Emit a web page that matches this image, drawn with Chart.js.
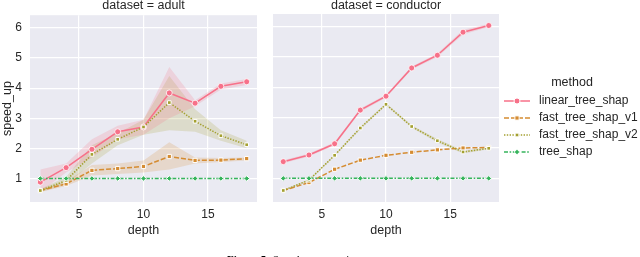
<!DOCTYPE html>
<html>
<head>
<meta charset="utf-8">
<script src="https://cdn.jsdelivr.net/npm/chart.js@4/dist/chart.umd.min.js"></script>
<style>
  body { margin: 0; width: 640px; height: 257px; overflow: hidden; background: #fff; position: relative; }
  canvas { position: absolute; top: 0; }
  #left { left: 0; }
  #right { left: 262px; }
  #caption { position: absolute; left: 227px; top: 254px; font: 11px/11px "Liberation Serif", serif; color: #000; white-space: nowrap; }
</style>
</head>
<body>
<canvas id="left" width="262" height="257"></canvas>
<canvas id="right" width="378" height="257"></canvas>
<div id="caption"><b>Figure 5:</b> Speedup comparison</div>
<script>
// depth values on the x axis
const depths = [2, 4, 6, 8, 10, 12, 14, 16, 18];
const methods = ['linear_tree_shap', 'fast_tree_shap_v1', 'fast_tree_shap_v2', 'tree_shap'];
const xTicks = [5, 10, 15];
const yTicks = [1, 2, 3, 4, 5, 6];

// dataset = adult
const adultLinear = [0.88, 1.36, 1.97, 2.55, 2.71, 3.84, 3.5, 4.06, 4.21];
const adultV1 = [0.6, 0.82, 1.27, 1.33, 1.4, 1.73, 1.6, 1.61, 1.66];
const adultV2 = [0.6, 0.93, 1.8, 2.3, 2.71, 3.52, 2.9, 2.42, 2.12];
const adultTree = [1, 1, 1, 1, 1, 1, 1, 1, 1];
const adultLinearLo = [0.55, 1.2, 1.7, 2.3, 2.45, 3.0, 3.4, 3.95, 4.1];
const adultLinearHi = [1.3, 1.5, 2.3, 2.75, 2.95, 4.7, 3.6, 4.15, 4.3];
const adultV1Lo = [0.55, 0.75, 1.1, 1.15, 1.2, 1.3, 1.5, 1.55, 1.6];
const adultV1Hi = [0.65, 0.9, 1.45, 1.5, 1.6, 2.2, 1.7, 1.68, 1.7];
const adultV2Lo = [0.55, 0.8, 1.5, 2.1, 2.45, 2.6, 2.55, 2.25, 2.0];
const adultV2Hi = [0.65, 1.05, 2.1, 2.5, 2.95, 4.4, 3.3, 2.6, 2.25];

// dataset = conductor
const condLinear = [1.55, 1.77, 2.14, 3.25, 3.71, 4.64, 5.06, 5.82, 6.04];
const condV1 = [0.6, 0.86, 1.3, 1.6, 1.76, 1.86, 1.94, 2.0, 2.02];
const condV2 = [0.6, 0.94, 1.76, 2.66, 3.44, 2.71, 2.24, 1.87, 1.99];
const condTree = [1, 1, 1, 1, 1, 1, 1, 1, 1];
const condLinearLo = [1.5, 1.72, 2.09, 3.2, 3.66, 4.59, 5.0, 5.74, 5.99];
const condLinearHi = [1.6, 1.82, 2.19, 3.3, 3.76, 4.69, 5.12, 5.9, 6.09];
const condV2Lo = [0.58, 0.91, 1.73, 2.62, 3.4, 2.67, 2.18, 1.82, 1.96];
const condV2Hi = [0.62, 0.97, 1.79, 2.7, 3.48, 2.75, 2.3, 1.92, 2.02];

const colors = ['#f77189', '#d58c32', '#a4a031', '#36b45c'];
const dashes = [[], [5, 2], [1.4, 1.4], [4, 1.6, 1.6, 1.6]];
const markers = ['circle', 'rect', 'rect', 'rectRot'];
const radii = [3, 3, 2.6, 2.8];
const font = '"Liberation Sans", Arial, sans-serif';
const textColor = '#262626';

function pts(ys) { return depths.map((d, i) => ({x: d, y: ys[i]})); }
function alpha(hex, a) {
  const n = parseInt(hex.slice(1), 16);
  return `rgba(${n >> 16},${(n >> 8) & 255},${n & 255},${a})`;
}

function lineSet(i, ys) {
  return {
    label: methods[i], data: pts(ys), order: 4 - i,
    borderColor: colors[i], borderWidth: 1.5, borderDash: dashes[i],
    pointStyle: markers[i], pointRadius: radii[i],
    pointBackgroundColor: colors[i], pointBorderColor: '#fff',
    pointBorderWidth: i === 0 ? 0.8 : 1, tension: 0, fill: false
  };
}
// band = two datasets, the upper filled down to the lower
function bandSets(i, lo, hi) {
  return [
    {label: 'lo', data: pts(lo), order: 10 + i, borderWidth: 0, pointRadius: 0, fill: false},
    {label: 'hi', data: pts(hi), order: 10 + i, borderWidth: 0, pointRadius: 0,
     fill: '-1', backgroundColor: alpha(colors[i], 0.2)}
  ];
}

const panel = {
  id: 'panel',
  beforeDraw(chart, args, opts) {
    const {ctx, chartArea: a} = chart;
    ctx.save();
    ctx.fillStyle = '#eaeaf2';
    ctx.fillRect(a.left, a.top, a.right - a.left, a.bottom - a.top);
    ctx.restore();
  },
  afterDraw(chart, args, opts) {
    const {ctx, chartArea: a} = chart;
    ctx.save();
    ctx.fillStyle = textColor;
    ctx.font = '12.5px ' + font;
    ctx.textAlign = 'center';
    ctx.textBaseline = 'middle';
    ctx.fillText(opts.title, (a.left + a.right) / 2, 6);
    if (opts.legend) {
      const ox = -262;
      ctx.fillText('method', 572 + ox, 83);
      ctx.textAlign = 'left';
      ctx.font = '12px ' + font;
      methods.forEach((m, i) => {
        const y = 101 + i * 17;
        ctx.strokeStyle = colors[i];
        ctx.lineWidth = 1.5;
        ctx.setLineDash(dashes[i]);
        ctx.beginPath();
        ctx.moveTo(504 + ox, y);
        ctx.lineTo(530 + ox, y);
        ctx.stroke();
        ctx.setLineDash([]);
        ctx.fillStyle = colors[i];
        ctx.strokeStyle = '#fff';
        ctx.lineWidth = 1;
        Chart.helpers.drawPoint(ctx, {pointStyle: markers[i], rotation: 0, radius: radii[i], borderWidth: 1}, 517 + ox, y);
        ctx.fillStyle = textColor;
        ctx.fillText(m, 539 + ox, y);
      });
    }
    ctx.restore();
  }
};

function makeChart(id, datasets, left, opts) {
  return new Chart(document.getElementById(id), {
    type: 'line',
    data: {datasets},
    plugins: [panel],
    options: {
      responsive: false, animation: false,
      layout: {padding: {left: 0, top: 14, right: opts.padRight, bottom: 0}},
      plugins: {legend: {display: false}, tooltip: {enabled: false}, panel: opts.panel},
      scales: {
        x: {
          type: 'linear', min: 1.2, max: 18.8,
          afterBuildTicks: s => { s.ticks = xTicks.map(v => ({value: v})); },
          afterFit: s => { s.height = 55; },
          grid: {color: '#fff', lineWidth: 1.2, drawTicks: false},
          border: {display: false},
          ticks: {color: textColor, font: {family: font, size: 12}, padding: 5, maxRotation: 0},
          title: {display: true, text: 'depth', color: textColor, font: {family: font, size: 12.5}, padding: {top: 0, bottom: 19}}
        },
        y: {
          min: 0.22, max: 6.42,
          afterBuildTicks: s => { s.ticks = yTicks.map(v => ({value: v})); },
          afterFit: s => { s.width = left; },
          grid: {color: '#fff', lineWidth: 1.2, drawTicks: false},
          border: {display: false},
          ticks: {display: opts.yLabels, color: textColor, font: {family: font, size: 12}, padding: 8},
          title: {display: opts.yLabels, text: 'speed_up', color: textColor, font: {family: font, size: 12.5}, padding: 0}
        }
      }
    }
  });
}

const adultSets = [
  lineSet(0, adultLinear), lineSet(1, adultV1), lineSet(2, adultV2), lineSet(3, adultTree),
  ...bandSets(0, adultLinearLo, adultLinearHi),
  ...bandSets(1, adultV1Lo, adultV1Hi),
  ...bandSets(2, adultV2Lo, adultV2Hi)
];
const condSets = [
  lineSet(0, condLinear), lineSet(1, condV1), lineSet(2, condV2), lineSet(3, condTree),
  ...bandSets(0, condLinearLo, condLinearHi),
  ...bandSets(2, condV2Lo, condV2Hi)
];

makeChart('left', adultSets, 30, {padRight: 4, yLabels: true, panel: {title: 'dataset = adult', legend: false}});
makeChart('right', condSets, 11, {padRight: 141, yLabels: false, panel: {title: 'dataset = conductor', legend: true}});
</script>
</body>
</html>
